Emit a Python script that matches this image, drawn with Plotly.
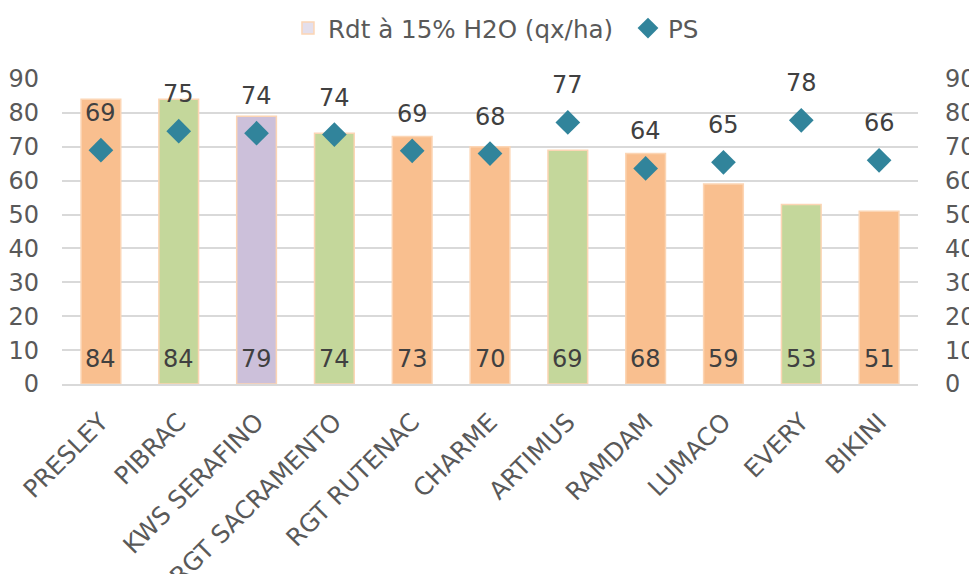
import plotly.graph_objects as go

varieties = ["PRESLEY", "PIBRAC", "KWS SERAFINO", "RGT SACRAMENTO", "RGT RUTENAC",
             "CHARME", "ARTIMUS", "RAMDAM", "LUMACO", "EVERY", "BIKINI"]
rdt = [84, 84, 79, 74, 73, 70, 69, 68, 59, 53, 51]
ps = [69, 74.6, 74, 73.6, 68.8, 68, 77.2, 63.6, 65.4, 77.8, 66]
ps_labels = ["69", "75", "74", "74", "69", "68", "77", "64", "65", "78", "66"]
bar_colors = ["#F9BF8F", "#C4D79B", "#CCC0DA", "#C4D79B", "#F9BF8F", "#F9BF8F",
              "#C4D79B", "#F9BF8F", "#F9BF8F", "#C4D79B", "#F9BF8F"]

FONT = "DejaVu Sans, Verdana, sans-serif"
TXT = "#404040"
TICK = "#595959"
FS = 24
FS_TXT = 24.6

fig = go.Figure()
fig.add_trace(go.Bar(
    x=varieties, y=rdt, marker=dict(color=bar_colors, line=dict(color="#FCD5B4", width=1.5)),
    width=0.51, showlegend=False, name="Rdt à 15% H2O (qx/ha)",
))
fig.add_trace(go.Bar(
    x=[varieties[0]], y=[None], marker=dict(color="#E4DFEC", line=dict(color="#FCD5B4", width=1.5)),
    name="Rdt à 15% H2O (qx/ha)", showlegend=True,
))
fig.add_trace(go.Scatter(
    x=varieties, y=ps, mode="markers", yaxis="y2", name="PS",
    marker=dict(symbol="diamond", size=19, color="#31849B"),
))
for v, r in zip(varieties, rdt):
    fig.add_annotation(x=v, y=0, text=str(r), showarrow=False, yshift=25,
                       font=dict(family=FONT, size=FS, color=TXT))
for v, p, lab in zip(varieties, ps, ps_labels):
    fig.add_annotation(x=v, y=p, yref="y2", text=lab, showarrow=False, yshift=37,
                       font=dict(family=FONT, size=FS, color=TXT))

# page body has an 8px margin; figure is sized/offset to compensate
fig.update_layout(
    width=969, height=566,
    margin=dict(l=54, r=59, t=71, b=190, autoexpand=False),
    plot_bgcolor="white", paper_bgcolor="white",
    font=dict(family=FONT, size=FS, color=TICK),
    barmode="overlay",
    legend=dict(orientation="h", x=0.264, xanchor="left", y=1.167, yanchor="middle",
                font=dict(family=FONT, size=FS_TXT, color=TICK), itemwidth=30,
                entrywidth=295, entrywidthmode="pixels",
                traceorder="normal"),
    xaxis=dict(tickangle=-45, tickfont=dict(family=FONT, size=FS_TXT, color=TICK),
               range=[-0.5, 10.5],
               showline=True, linecolor="#D9D9D9", linewidth=1.5, ticks="",
               automargin=False, ticklabelstandoff=12),
    yaxis=dict(range=[0, 90], dtick=10, showgrid=True, gridcolor="#D9D9D9", gridwidth=1.5,
               zeroline=False, tickfont=dict(family=FONT, size=FS, color=TICK), ticks="",
               ticklabelstandoff=22, automargin=False),
    yaxis2=dict(range=[0, 90], dtick=10, overlaying="y", side="right", showgrid=False,
                zeroline=False, tickfont=dict(family=FONT, size=FS, color=TICK), ticks="",
                ticklabelstandoff=26, automargin=False),
)

fig.write_html("out.html")
